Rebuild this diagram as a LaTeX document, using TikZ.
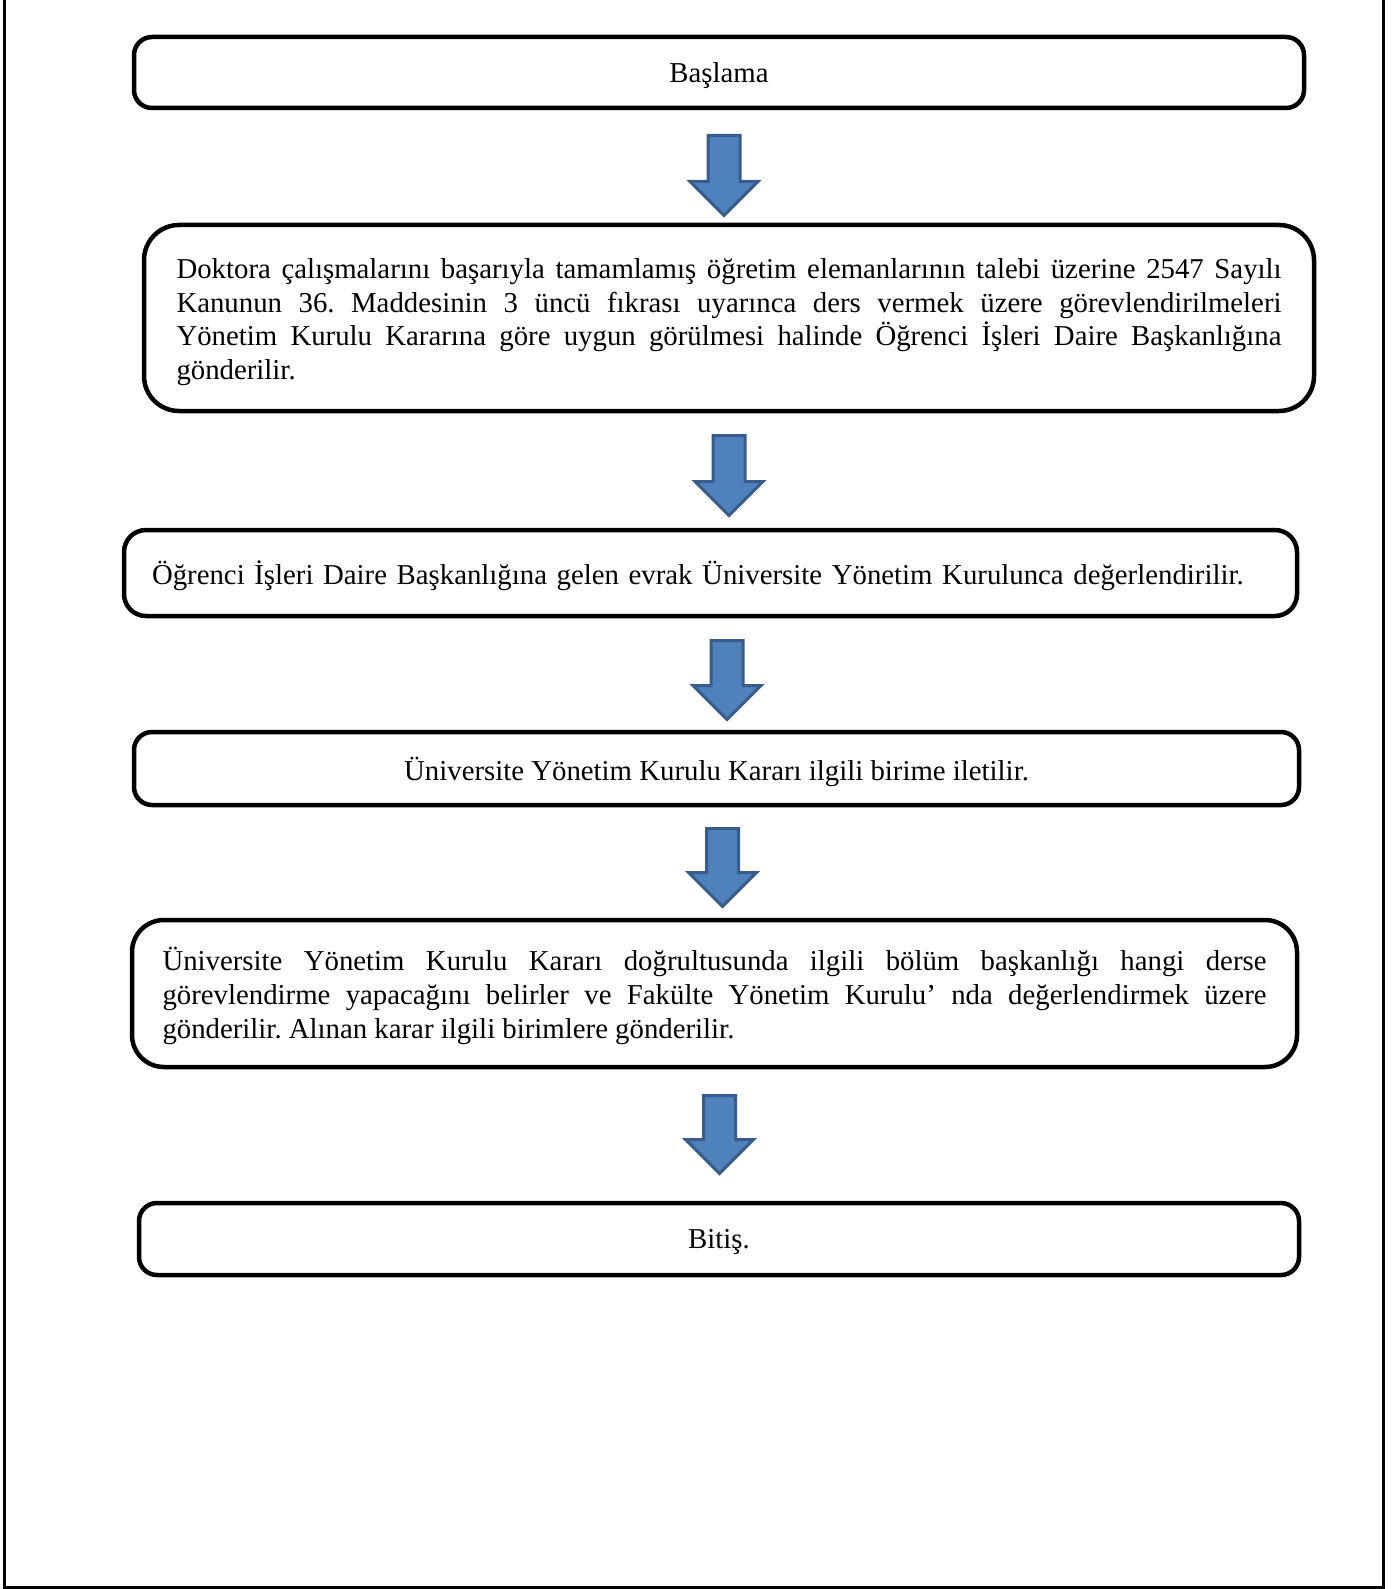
\documentclass[tikz,border=0pt]{standalone}
\usepackage{fontspec}
\setmainfont{Liberation Serif}
\usetikzlibrary{positioning}
\definecolor{arrowfill}{RGB}{79,129,189}
\definecolor{arrowline}{RGB}{56,93,138}

\begin{document}
\frenchspacing
\begin{tikzpicture}[x=1pt, y=-1pt,
    stepbox/.style={draw, line width=4.5pt, rounded corners=18pt, inner sep=0pt,
      font=\fontsize{28.8}{33.6}\selectfont},
    oneline/.style={stepbox, text depth=0pt},
    manyline/.style={stepbox, text height=28pt, align=justify},
    downarrow/.style={draw=arrowline, fill=arrowfill, line width=3pt, line join=miter}]
    \useasboundingbox (0,0) rectangle (1396,1589);

    % Frame
    \draw[line width=3pt] (4.7,0) -- (4.7,1587.5) -- (1383.7,1587.5) -- (1383.7,0);

    % Steps
    \node[oneline, minimum width=1170, minimum height=71] (basla) at (719,72.5) {Başlama};
    \node[manyline, rounded corners=35pt, minimum width=1170, minimum height=186,
      text width=1105] (doktora) at (729,318)
      {Doktora çalışmalarını başarıyla tamamlamış öğretim elemanlarının talebi üzerine 2547 Sayılı\linebreak
       Kanunun 36. Maddesinin 3 üncü fıkrası uyarınca ders vermek üzere görevlendirilmeleri\linebreak
       Yönetim Kurulu Kararına göre uygun görülmesi halinde Öğrenci İşleri Daire Başkanlığına\linebreak
       gönderilir.};
    \node[oneline, rounded corners=22pt, minimum width=1173, minimum height=86,
      text width=1117, align=left] (evrak) at (710.5,573)
      {Öğrenci İşleri Daire Başkanlığına gelen evrak Üniversite Yönetim Kurulunca değerlendirilir.};
    \node[oneline, minimum width=1165, minimum height=73] (iletim) at (716.5,768.5)
      {Üniversite Yönetim Kurulu Kararı ilgili birime iletilir.};
    \node[manyline, rounded corners=32pt, minimum width=1165, minimum height=147,
      text width=1104] (bolum) at (714.5,993.5)
      {Üniversite Yönetim Kurulu Kararı doğrultusunda ilgili bölüm başkanlığı hangi derse\linebreak
       görevlendirme yapacağını belirler ve Fakülte Yönetim Kurulu’ nda değerlendirmek üzere\linebreak
       gönderilir. Alınan karar ilgili birimlere gönderilir.};
    \node[oneline, minimum width=1160, minimum height=72] (bitis) at (719,1239) {Bitiş.};

    % Block arrows
    \foreach \x/\t/\b in {724/135.5/215.5, 729/435.5/515.5, 727/640.5/719.5,
                          722.5/828.5/906.5, 719.5/1095.5/1173.5} {
      \draw[downarrow] (\x-16,\t) -- (\x+16,\t) -- (\x+16,\b-34) -- (\x+34,\b-34)
        -- (\x,\b) -- (\x-34,\b-34) -- (\x-16,\b-34) -- cycle;
    }
\end{tikzpicture}
\end{document}
